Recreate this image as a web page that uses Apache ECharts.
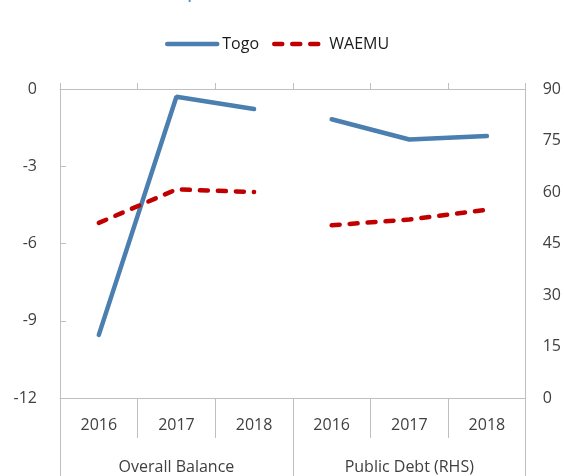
<!DOCTYPE html>
<html>
<head>
<meta charset="utf-8">
<script src="https://cdn.jsdelivr.net/npm/echarts@6/dist/echarts.min.js"></script>
<style>
  html, body { margin: 0; padding: 0; background: #fff; }
  #chart { width: 564px; height: 476px; }
</style>
</head>
<body>
<div id="chart"></div>
<script>
const years = ["2016", "2017", "2018", "2016", "2017", "2018"];
const groups = ["Overall Balance", "Public Debt (RHS)"];
const togoBalance = [-9.55, -0.3, -0.78];
const waemuBalance = [-5.2, -3.9, -4.0];
const togoDebt = [81.2, 75.3, 76.3];
const waemuDebt = [50.3, 52.0, 54.8];
const blank = ["-", "-", "-"];

const font = "Open Sans";
const grey = "#bfbfbf";
const textColor = "#404040";
const blue = "#4a7fb0";
const red = "#c00000";

var chart = echarts.init(document.getElementById("chart"));

var option = {
  textStyle: { fontFamily: font },
  title: {
    text: "(percent of GDP)",
    left: 175,
    top: -27,
    textStyle: { color: "#5a8fc6", fontSize: 23, fontWeight: "normal", fontFamily: font },
  },
  legend: {
    top: 31,
    left: 160,
    itemWidth: 50,
    itemHeight: 14,
    itemGap: 13,
    itemStyle: { opacity: 0 },
    data: [
      { name: "Togo", lineStyle: { width: 4.5, color: blue, cap: "round" } },
      { name: "WAEMU", lineStyle: { width: 4.5, color: red, type: [8, 10], cap: "round" } },
    ],
    textStyle: { fontSize: 16, color: "#1a1a1a", fontFamily: font },
  },
  grid: { left: 60, right: 36, top: 89, bottom: 78 },
  xAxis: [
    {
      type: "category",
      data: years,
      position: "bottom",
      axisLine: { onZero: false, lineStyle: { color: grey } },
      axisTick: { show: true, length: 40, interval: 0, lineStyle: { color: grey } },
      axisLabel: { margin: 19, fontSize: 16, color: textColor, interval: 0 },
    },
    {
      type: "category",
      data: groups,
      position: "bottom",
      axisLine: { show: false, onZero: false },
      axisTick: { show: true, length: 80, interval: 0, lineStyle: { color: grey } },
      axisLabel: { margin: 61, fontSize: 16, color: textColor, interval: 0 },
    },
    {
      type: "category",
      data: years,
      position: "top",
      axisLine: { onZero: false, lineStyle: { color: grey } },
      axisTick: { show: true, length: 6, interval: 0, lineStyle: { color: grey } },
      axisLabel: { show: false },
    },
  ],
  yAxis: [
    {
      type: "value",
      min: -12,
      max: 0,
      interval: 3,
      splitLine: { show: false },
      axisLine: { show: true, lineStyle: { color: grey } },
      axisTick: { show: true, inside: true, length: 6, lineStyle: { color: grey } },
      axisLabel: { margin: 23, fontSize: 16, color: textColor },
    },
    {
      type: "value",
      min: 0,
      max: 90,
      interval: 15,
      splitLine: { show: false },
      axisLine: { show: true, lineStyle: { color: grey } },
      axisTick: { show: false },
      axisLabel: { margin: 17, fontSize: 16, color: textColor },
    },
  ],
  series: [
    {
      name: "Togo",
      type: "line",
      xAxisIndex: 0,
      yAxisIndex: 0,
      data: togoBalance.concat(blank),
      symbol: "none",
      color: blue,
      lineStyle: { width: 4.5, color: blue, cap: "round" },
    },
    {
      name: "Togo",
      type: "line",
      xAxisIndex: 0,
      yAxisIndex: 1,
      data: blank.concat(togoDebt),
      symbol: "none",
      color: blue,
      lineStyle: { width: 4.5, color: blue, cap: "round" },
    },
    {
      name: "WAEMU",
      type: "line",
      xAxisIndex: 0,
      yAxisIndex: 0,
      data: waemuBalance.concat(blank),
      symbol: "none",
      color: red,
      lineStyle: { width: 4.5, color: red, type: [8, 10], cap: "round" },
    },
    {
      name: "WAEMU",
      type: "line",
      xAxisIndex: 0,
      yAxisIndex: 1,
      data: blank.concat(waemuDebt),
      symbol: "none",
      color: red,
      lineStyle: { width: 4.5, color: red, type: [8, 10], cap: "round" },
    },
  ],
};
chart.setOption(option);
</script>
</body>
</html>
